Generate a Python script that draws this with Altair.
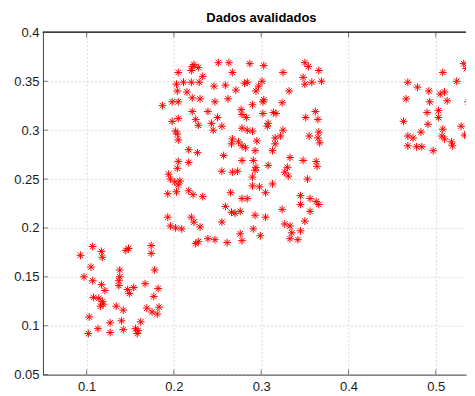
import altair as alt
import pandas as pd

title_text = "Dados avalidados"

cluster_small = [
    (0.093,0.172),(0.107,0.181),(0.117,0.176),(0.118,0.170),(0.145,0.177),(0.148,0.179),
    (0.174,0.182),(0.174,0.174),(0.105,0.160),(0.097,0.150),(0.107,0.146),(0.117,0.142),
    (0.121,0.136),(0.138,0.157),(0.138,0.150),(0.137,0.146),(0.137,0.141),(0.178,0.157),
    (0.167,0.143),(0.182,0.138),(0.177,0.130),(0.147,0.137),(0.149,0.133),(0.154,0.139),
    (0.108,0.129),(0.114,0.128),(0.118,0.125),(0.116,0.120),(0.119,0.122),(0.134,0.120),
    (0.142,0.116),(0.169,0.118),(0.175,0.114),(0.183,0.119),(0.181,0.112),(0.103,0.109),
    (0.127,0.103),(0.140,0.105),(0.162,0.104),(0.113,0.097),(0.102,0.092),(0.127,0.093),
    (0.142,0.096),(0.156,0.097),(0.158,0.092),(0.159,0.095),
]

cluster_big = [
    (0.205,0.359),(0.221,0.365),(0.223,0.367),(0.228,0.364),(0.220,0.361),(0.233,0.355),
    (0.251,0.369),(0.263,0.369),(0.267,0.359),(0.203,0.347),(0.211,0.349),(0.220,0.349),
    (0.229,0.349),(0.204,0.340),(0.246,0.345),(0.259,0.346),(0.271,0.341),(0.281,0.348),
    (0.215,0.339),(0.221,0.333),(0.230,0.332),(0.247,0.329),(0.262,0.332),(0.187,0.325),
    (0.198,0.329),(0.205,0.329),(0.221,0.319),(0.239,0.319),(0.250,0.313),(0.198,0.309),
    (0.205,0.312),(0.225,0.311),(0.228,0.305),(0.243,0.307),(0.255,0.304),(0.277,0.321),
    (0.278,0.316),(0.202,0.299),(0.204,0.296),(0.245,0.300),(0.278,0.302),(0.205,0.290),
    (0.267,0.291),(0.274,0.288),(0.266,0.286),
    (0.287,0.368),(0.303,0.366),(0.325,0.359),(0.350,0.369),(0.354,0.365),(0.366,0.361),
    (0.284,0.349),(0.301,0.350),(0.297,0.345),(0.294,0.340),(0.332,0.340),(0.348,0.354),
    (0.350,0.347),(0.358,0.349),(0.369,0.350),(0.290,0.326),(0.302,0.329),(0.303,0.331),
    (0.324,0.328),(0.283,0.313),(0.302,0.317),(0.314,0.318),(0.317,0.317),(0.308,0.307),
    (0.307,0.304),(0.351,0.313),(0.362,0.319),(0.365,0.311),(0.284,0.300),(0.290,0.299),
    (0.325,0.300),(0.366,0.298),(0.295,0.289),(0.316,0.292),(0.322,0.294),(0.355,0.294),
    (0.365,0.292),(0.367,0.287),(0.316,0.286),(0.278,0.284),
    (0.217,0.280),(0.227,0.277),(0.205,0.268),(0.217,0.267),(0.204,0.261),(0.257,0.274),
    (0.278,0.269),(0.194,0.255),(0.196,0.250),(0.201,0.247),(0.205,0.244),(0.207,0.248),
    (0.255,0.258),(0.267,0.257),(0.273,0.258),(0.193,0.235),(0.203,0.237),(0.217,0.238),
    (0.222,0.234),(0.233,0.232),(0.265,0.236),(0.278,0.230),(0.259,0.222),(0.266,0.216),
    (0.270,0.215),(0.276,0.217),(0.193,0.211),(0.196,0.202),(0.202,0.200),(0.209,0.199),
    (0.220,0.211),(0.223,0.206),(0.230,0.201),(0.255,0.206),(0.276,0.194),(0.228,0.186),
    (0.225,0.184),(0.239,0.189),(0.247,0.188),(0.261,0.185),(0.278,0.187),
    (0.282,0.282),(0.293,0.279),(0.313,0.279),(0.333,0.272),(0.348,0.269),(0.363,0.268),
    (0.364,0.263),(0.291,0.269),(0.294,0.262),(0.293,0.259),(0.308,0.264),(0.330,0.262),
    (0.331,0.253),(0.327,0.257),(0.353,0.250),(0.290,0.252),(0.290,0.243),(0.298,0.242),
    (0.305,0.236),(0.313,0.245),(0.284,0.230),(0.345,0.233),(0.345,0.224),(0.356,0.230),
    (0.363,0.227),(0.366,0.224),(0.356,0.217),(0.324,0.219),(0.293,0.213),(0.305,0.211),
    (0.350,0.207),(0.327,0.204),(0.333,0.202),(0.291,0.199),(0.335,0.195),(0.345,0.197),
    (0.299,0.192),(0.333,0.189),(0.342,0.188),
]

cluster_right = [
    (0.532,0.368),(0.535,0.363),(0.508,0.359),(0.524,0.350),(0.468,0.349),(0.479,0.344),
    (0.492,0.340),(0.505,0.337),(0.510,0.339),(0.513,0.330),(0.466,0.332),(0.493,0.329),
    (0.503,0.320),(0.490,0.318),(0.503,0.313),(0.537,0.329),(0.542,0.334),(0.463,0.309),
    (0.491,0.306),(0.508,0.301),(0.529,0.304),(0.533,0.295),(0.539,0.293),(0.468,0.294),
    (0.474,0.292),(0.483,0.298),(0.507,0.294),(0.510,0.291),(0.518,0.288),(0.468,0.284),
    (0.478,0.283),(0.484,0.283),(0.519,0.284),(0.497,0.279),(0.539,0.281),
]

x_ticks = [0.1, 0.2, 0.3, 0.4, 0.5]
y_ticks = [0.05, 0.1, 0.15, 0.2, 0.25, 0.3, 0.35, 0.4]

pts = pd.DataFrame(cluster_small + cluster_big + cluster_right, columns=["x", "y"])
xt = pd.DataFrame({"x": x_ticks})
yt = pd.DataFrame({"y": y_ticks})

FONT = "Liberation Sans"
AX = "#404040"
xs = alt.Scale(domain=[0.05, 0.5346], nice=False, zero=False)
ys = alt.Scale(domain=[0.05, 0.4], nice=False, zero=False)

star = "M-1,0L1,0M0,-1L0,1M-0.7,-0.7L0.7,0.7M-0.7,0.7L0.7,-0.7"

points = alt.Chart(pts).mark_point(
    shape=star, filled=False, stroke="#ff0000", strokeWidth=1, size=62, opacity=1, clip=True
).encode(
    x=alt.X("x:Q", scale=xs, axis=alt.Axis(values=x_ticks, format="~g", title=None)),
    y=alt.Y("y:Q", scale=ys, axis=alt.Axis(values=y_ticks, format="~g", title=None,
                                          minExtent=30, maxExtent=30)),
)

top_border = alt.Chart(yt).mark_rule(color=AX, strokeWidth=1).encode(
    y=alt.datum(0.4, scale=ys)
)

top_ticks = alt.Chart(xt).mark_tick(orient="vertical", size=5, yOffset=2.5, color=AX, thickness=1).encode(
    x=alt.X("x:Q", scale=xs), y=alt.datum(0.4)
)
bottom_ticks = alt.Chart(xt).mark_tick(orient="vertical", size=5, yOffset=-2.5, color=AX, thickness=1).encode(
    x=alt.X("x:Q", scale=xs), y=alt.datum(0.05)
)
left_ticks = alt.Chart(yt).mark_tick(orient="horizontal", size=5, xOffset=2.5, color=AX, thickness=1).encode(
    y=alt.Y("y:Q", scale=ys), x=alt.datum(0.05)
)

chart = alt.layer(points, top_border, top_ticks, bottom_ticks, left_ticks).properties(
    width=424,
    height=343,
    padding={"left": 5, "top": 4, "right": 0, "bottom": 0},
    title=alt.TitleParams(title_text, font=FONT, fontSize=13, fontWeight="bold",
                          color="#000000", offset=1, anchor="middle", dx=7),
    background="#ffffff",
).configure_view(strokeWidth=0).configure_axis(
    grid=True, gridColor="#dadada", gridDash=[2, 2], gridWidth=1,
    ticks=False, domainColor=AX, domainWidth=1,
    labelFont=FONT, labelFontSize=13, labelColor="#1a1a1a", labelPadding=4,
).configure_axisX(labelPadding=6)

chart.save("out.html", embed_options={"renderer": "svg", "actions": False})
